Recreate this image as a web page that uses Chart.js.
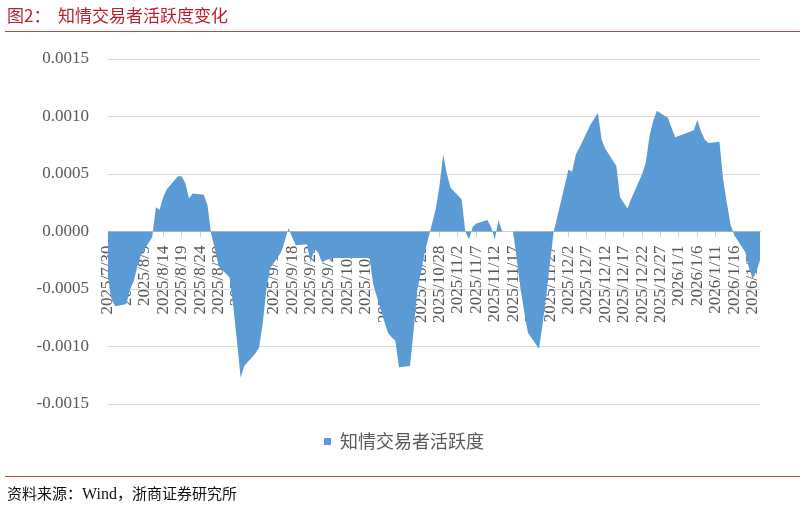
<!DOCTYPE html>
<html>
<head>
<meta charset="utf-8">
<script src="https://cdn.jsdelivr.net/npm/chart.js@4/dist/chart.umd.min.js"></script>
<style>
  html, body { margin: 0; padding: 0; background: #fff; }
  body { width: 802px; height: 507px; position: relative; overflow: hidden; }
  #wrap { position: absolute; left: 0; top: 0; width: 802px; height: 507px; }
  #title { position: absolute; left: 7px; top: 3px; font: 17px "Noto Sans CJK SC", sans-serif; color: #B8212D; white-space: pre; line-height: 24px; }
  #topline { position: absolute; left: 5px; top: 31px; width: 795px; height: 0; border-top: 1px solid #C8453D; }
  #botline { position: absolute; left: 5px; top: 476px; width: 795px; height: 0; border-top: 1px solid #C8453D; }
  #source { position: absolute; left: 7px; top: 482px; font: 15px "Noto Sans CJK SC", sans-serif; color: #111; white-space: pre; line-height: 22px; }
  #source .w { font-family: "Liberation Serif", serif; font-size: 16px; }
</style>
</head>
<body>
<div id="wrap"><canvas id="c" width="802" height="507"></canvas></div>
<div id="title">图2：  知情交易者活跃度变化</div>
<div id="topline"></div>
<div id="botline"></div>
<div id="source">资料来源：<span class="w">Wind</span>，浙商证券研究所</div>
<script>
// ---- data ----
const seriesName = '知情交易者活跃度';
const dates = [
  '2025/7/30','2025/7/31','2025/8/1','2025/8/4','2025/8/5','2025/8/6','2025/8/7','2025/8/8',
  '2025/8/11','2025/8/12','2025/8/13','2025/8/14','2025/8/15','2025/8/18','2025/8/19','2025/8/20',
  '2025/8/21','2025/8/22','2025/8/25','2025/8/26','2025/8/27','2025/8/28','2025/8/29',
  '2025/9/1','2025/9/2','2025/9/3','2025/9/4','2025/9/5','2025/9/8','2025/9/9','2025/9/10',
  '2025/9/11','2025/9/12','2025/9/15','2025/9/16','2025/9/17','2025/9/18','2025/9/19',
  '2025/9/22','2025/9/23','2025/9/24','2025/9/25','2025/9/26','2025/9/29','2025/9/30',
  '2025/10/9','2025/10/10','2025/10/13','2025/10/14','2025/10/15','2025/10/16','2025/10/17',
  '2025/10/20','2025/10/21','2025/10/22','2025/10/23','2025/10/24','2025/10/27','2025/10/28',
  '2025/10/29','2025/10/30','2025/10/31','2025/11/3','2025/11/4','2025/11/5','2025/11/6',
  '2025/11/7','2025/11/10','2025/11/11','2025/11/12','2025/11/13','2025/11/14','2025/11/17',
  '2025/11/18','2025/11/19','2025/11/20','2025/11/21','2025/11/24','2025/11/25','2025/11/26',
  '2025/11/27','2025/11/28','2025/12/1','2025/12/2','2025/12/3','2025/12/4','2025/12/5',
  '2025/12/8','2025/12/9','2025/12/10','2025/12/11','2025/12/12','2025/12/15','2025/12/16',
  '2025/12/17','2025/12/18','2025/12/19','2025/12/22','2025/12/23','2025/12/24','2025/12/25',
  '2025/12/26','2025/12/29','2025/12/30','2025/12/31','2026/1/5','2026/1/6','2026/1/7',
  '2026/1/8','2026/1/9','2026/1/12','2026/1/13','2026/1/14','2026/1/15','2026/1/16',
  '2026/1/19','2026/1/20','2026/1/21','2026/1/22','2026/1/23'
];
const values = [
  -0.00040,-0.00060,-0.00065,-0.00063,-0.00050,-0.00043,-0.00030,-0.00020,
  -0.00005,0.00021,0.00019,0.00030,0.00037,0.00048,0.00048,0.00042,
  0.00029,0.00033,0.00032,0.00023,-0.00002,-0.00015,-0.00030,
  -0.00040,-0.00065,-0.00095,-0.00127,-0.00117,-0.00106,-0.00101,-0.00080,
  -0.00050,-0.00032,-0.00018,-0.00008,0.00003,-0.00005,-0.00012,
  -0.00011,-0.00027,-0.00015,-0.00018,-0.00026,-0.00023,-0.00023,
  -0.00023,-0.00046,-0.00078,-0.00088,-0.00092,-0.00095,-0.00118,
  -0.00117,-0.00085,-0.00050,-0.00035,-0.00018,0.00020,0.00040,
  0.00067,0.00050,0.00038,0.00028,0.00000,-0.00007,0.00004,
  0.00007,0.00010,0.00004,-0.00007,0.00010,0.00000,0.00000,
  -0.00025,-0.00050,-0.00070,-0.00088,-0.00102,-0.00080,-0.00055,
  -0.00027,0.00000,0.00040,0.00054,0.00052,0.00067,0.00073,
  0.00093,0.00098,0.00103,0.00080,0.00072,0.00057,0.00030,
  0.00025,0.00020,0.00028,0.00050,0.00060,0.00083,0.00096,
  0.00105,0.00099,0.00090,0.00082,0.00088,0.00097,0.00087,
  0.00080,0.00077,0.00078,0.00045,0.00025,0.00006,-0.00003,
  -0.00018,-0.00032,-0.00041,-0.00035,-0.00025
];
const xTickLabels = [
  '2025/7/30','2025/8/4','2025/8/9','2025/8/14','2025/8/19','2025/8/24','2025/8/29',
  '2025/9/3','2025/9/8','2025/9/13','2025/9/18','2025/9/23','2025/9/28','2025/10/3',
  '2025/10/8','2025/10/13','2025/10/18','2025/10/23','2025/10/28','2025/11/2','2025/11/7',
  '2025/11/12','2025/11/17','2025/11/22','2025/11/27','2025/12/2','2025/12/7','2025/12/12',
  '2025/12/17','2025/12/22','2025/12/27','2026/1/1','2026/1/6','2026/1/11','2026/1/16','2026/1/21'
];
const yTickValues = [-0.0015, -0.0010, -0.0005, 0, 0.0005, 0.0010, 0.0015];

// ---- helpers ----
const startDate = dates[0];
function dayOffset(s) {
  const [y, m, d] = s.split('/').map(Number);
  const [y0, m0, d0] = startDate.split('/').map(Number);
  return Math.round((Date.UTC(y, m - 1, d) - Date.UTC(y0, m0 - 1, d0)) / 86400000);
}
const points = dates.map((d, i) => ({ x: dayOffset(d), y: values[i] }));

const blue = '#5B9BD5';
const labelGray = '#595959';

new Chart(document.getElementById('c'), {
  type: 'line',
  data: {
    datasets: [{
      label: seriesName,
      data: points,
      fill: 'origin',
      backgroundColor: blue,
      borderColor: 'rgba(0,0,0,0)',
      borderWidth: 0,
      pointRadius: 0,
      pointHoverRadius: 0,
      tension: 0
    }]
  },
  options: {
    responsive: false,
    animation: false,
    events: [],
    layout: { padding: { left: 6, right: 0, top: 59, bottom: 46.5 } },
    plugins: {
      tooltip: { enabled: false },
      legend: {
        position: 'bottom',
        labels: {
          boxWidth: 7,
          boxHeight: 7,
          padding: 28.5,
          color: labelGray,
          font: { family: '"Noto Sans CJK SC", sans-serif', size: 18 }
        }
      }
    },
    scales: {
      x: {
        type: 'linear',
        position: { y: 0 },
        z: 1,
        min: 0,
        max: dayOffset(dates[dates.length - 1]),
        afterBuildTicks: (scale) => { scale.ticks = xTickLabels.map(l => ({ value: dayOffset(l) })); },
        grid: { drawOnChartArea: false, drawTicks: true, tickLength: 5, color: '#D0D0D0', lineWidth: 1 },
        border: { display: true, color: '#D0D0D0', width: 1 },
        ticks: {
          autoSkip: false,
          maxRotation: 90,
          minRotation: 90,
          padding: 9,
          color: labelGray,
          font: { family: '"Liberation Serif", serif', size: 17 },
          callback: (v, i) => xTickLabels[i]
        }
      },
      y: {
        type: 'linear',
        position: 'left',
        min: yTickValues[0],
        max: yTickValues[yTickValues.length - 1],
        afterBuildTicks: (scale) => { scale.ticks = yTickValues.map(v => ({ value: v })); },
        afterFit: (scale) => { scale.width = 102; },
        grid: { color: '#D9D9D9', lineWidth: 1, drawTicks: false },
        border: { display: false },
        ticks: {
          padding: 19,
          color: labelGray,
          font: { family: '"Liberation Serif", serif', size: 17 },
          callback: (v) => Number(v).toFixed(4)
        }
      },
      yRight: {
        type: 'linear',
        position: 'right',
        display: true,
        afterFit: (scale) => { scale.width = 42; },
        grid: { display: false, drawOnChartArea: false },
        border: { display: false },
        ticks: { display: false }
      }
    }
  }
});
</script>
</body>
</html>
